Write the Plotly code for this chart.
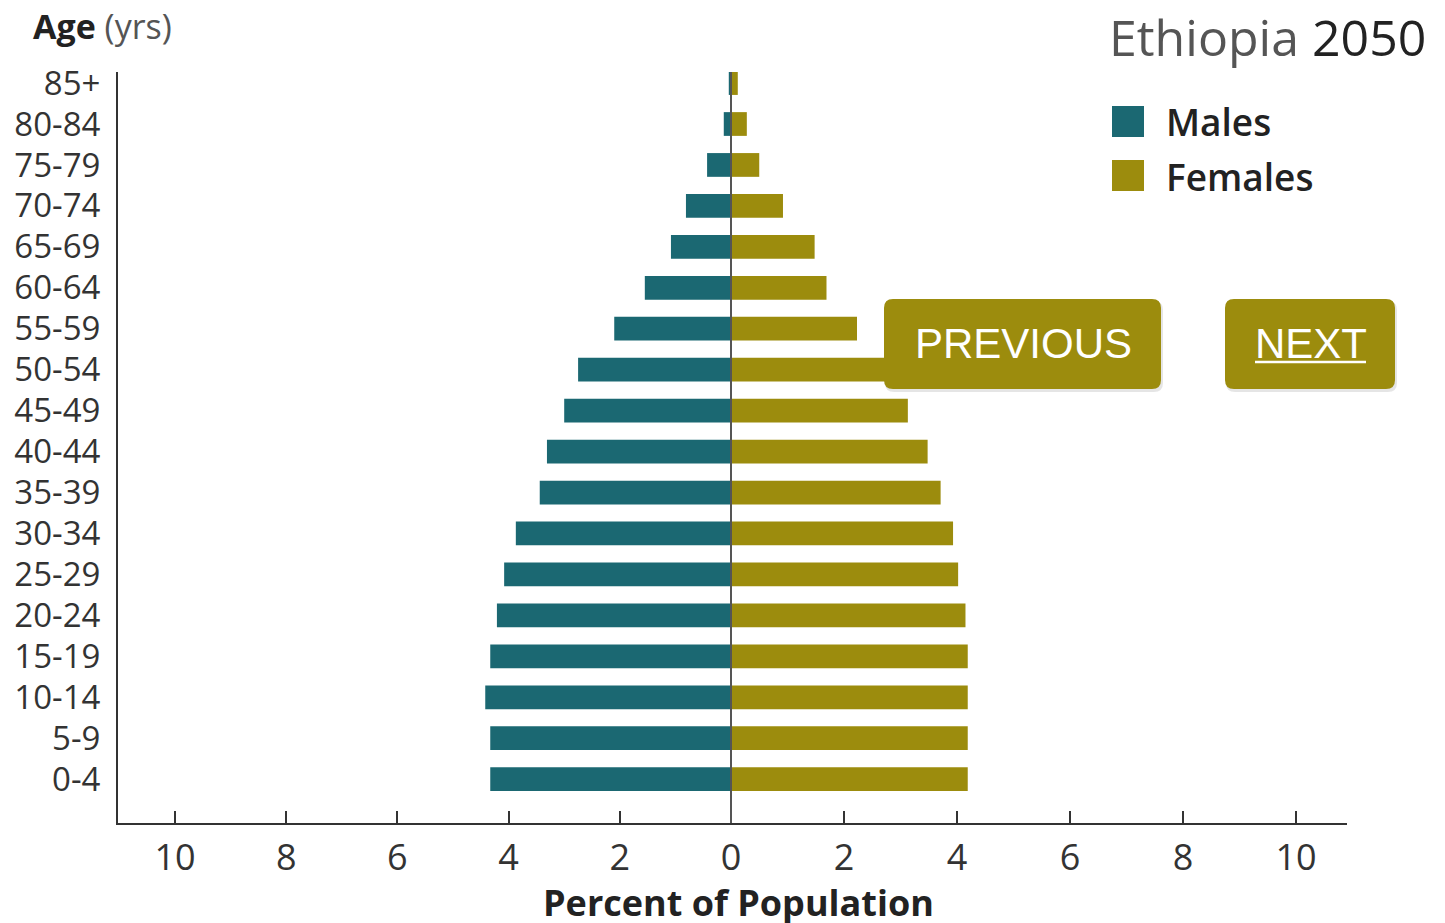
import plotly.graph_objects as go

age_groups = ["0-4", "5-9", "10-14", "15-19", "20-24", "25-29", "30-34", "35-39",
              "40-44", "45-49", "50-54", "55-59", "60-64", "65-69", "70-74", "75-79",
              "80-84", "85+"]
males = [4.33, 4.33, 4.42, 4.33, 4.21, 4.08, 3.87, 3.44, 3.31, 3.00, 2.75, 2.10,
         1.55, 1.08, 0.81, 0.43, 0.13, 0.04]
females = [4.19, 4.19, 4.19, 4.19, 4.15, 4.02, 3.93, 3.71, 3.48, 3.13, 2.90, 2.23,
           1.69, 1.48, 0.92, 0.50, 0.28, 0.12]
left_ticks = [-10, -8, -6, -4, -2]
left_tick_labels = ["10", "8", "6", "4", "2"]
right_ticks = [0, 2, 4, 6, 8, 10]
right_tick_labels = ["0", "2", "4", "6", "8", "10"]

TEAL = "#1b6872"
OLIVE = "#9c8c0d"
FONT = "Open Sans"

OFF = 8  # page body margin
W, H = 1445 - OFF, 923 - OFF
L, R, T, B = 118, 1347, 72, 823  # plot area in reference pixels
ZERO = 731  # reference pixel of the zero line


def px(x):
    return (x - L) / (R - L)


def py(y):
    return (B - y) / (B - T)


def rrect(x0, y0, x1, y1, r):
    pts = [
        f"M{px(x0 + r)},{py(y0)}",
        f"L{px(x1 - r)},{py(y0)}",
        f"Q{px(x1)},{py(y0)} {px(x1)},{py(y0 + r)}",
        f"L{px(x1)},{py(y1 - r)}",
        f"Q{px(x1)},{py(y1)} {px(x1 - r)},{py(y1)}",
        f"L{px(x0 + r)},{py(y1)}",
        f"Q{px(x0)},{py(y1)} {px(x0)},{py(y1 - r)}",
        f"L{px(x0)},{py(y0 + r)}",
        f"Q{px(x0)},{py(y0)} {px(x0 + r)},{py(y0)}",
        "Z",
    ]
    return " ".join(pts)


fig = go.Figure()
fig.add_trace(go.Bar(y=age_groups, x=[-v for v in males], orientation="h",
                     marker=dict(color=TEAL, line=dict(width=0)), name="Males",
                     width=0.58, xaxis="x", yaxis="y"))
fig.add_trace(go.Bar(y=age_groups, x=females, orientation="h",
                     marker=dict(color=OLIVE, line=dict(width=0)), name="Females",
                     width=0.58, xaxis="x2", yaxis="y"))

shapes = []
shapes.append(dict(type="line", xref="paper", yref="paper", x0=px(ZERO), x1=px(ZERO),
                   y0=0, y1=1, line=dict(color="#555555", width=2), layer="above"))
shapes.append(dict(type="rect", xref="paper", yref="paper", x0=px(1112), x1=px(1144),
                   y0=py(137), y1=py(106), fillcolor=TEAL, line=dict(width=0)))
shapes.append(dict(type="rect", xref="paper", yref="paper", x0=px(1112), x1=px(1144),
                   y0=py(191), y1=py(160), fillcolor=OLIVE, line=dict(width=0)))
for (x0, x1) in [(884, 1161), (1225, 1395)]:
    shapes.append(dict(type="path", xref="paper", yref="paper",
                       path=rrect(x0 + 1, 301, x1 + 2, 392, 9),
                       fillcolor="rgba(0,0,0,0.10)", line=dict(width=0), layer="above"))
    shapes.append(dict(type="path", xref="paper", yref="paper",
                       path=rrect(x0, 299, x1, 389, 9),
                       fillcolor=OLIVE, line=dict(width=0), layer="above"))
shapes.append(dict(type="line", xref="paper", yref="paper", x0=px(1255), x1=px(1366),
                   y0=py(362), y1=py(362), line=dict(color="white", width=2.5),
                   layer="above"))

annotations = [
    dict(text="<b>Age</b> <span style='color:#555'>(yrs)</span>", xref="paper", yref="paper",
         x=px(31), y=py(26), xanchor="left", yanchor="middle", showarrow=False,
         font=dict(family=FONT, size=34, color="#222")),
    dict(text="<span style='color:#555'>Ethiopia</span> 2050",
         xref="paper", yref="paper", x=px(1428), y=py(37), xanchor="right",
         yanchor="middle", showarrow=False,
         font=dict(family=FONT, size=50, color="#222")),
    dict(text="<span style='font-weight:600'>Males</span>", xref="paper", yref="paper",
         x=px(1164), y=py(122), xanchor="left", yanchor="middle", showarrow=False,
         font=dict(family=FONT, size=37, color="#222")),
    dict(text="<span style='font-weight:600'>Females</span>", xref="paper", yref="paper",
         x=px(1164), y=py(176), xanchor="left", yanchor="middle", showarrow=False,
         font=dict(family=FONT, size=37, color="#222")),
    dict(text="<b>Percent of Population</b>", xref="paper", yref="paper",
         x=px(738), y=py(902), xanchor="center", yanchor="middle", showarrow=False,
         font=dict(family=FONT, size=36, color="#222")),
    dict(text="PREVIOUS", xref="paper", yref="paper", x=px(1023), y=py(343),
         xanchor="center", yanchor="middle", showarrow=False,
         font=dict(family="Liberation Sans", size=42, color="white")),
    dict(text="NEXT", xref="paper", yref="paper", x=px(1311), y=py(343),
         xanchor="center", yanchor="middle", showarrow=False,
         font=dict(family="Liberation Sans", size=42, color="white")),
]

split = px(ZERO)
xcommon = dict(ticks="inside", ticklen=12, tickwidth=2, tickcolor="#333",
               showline=True, linecolor="#333", linewidth=2, showgrid=False,
               zeroline=False, tickfont=dict(family=FONT, size=36, color="#333"),
               ticklabelstandoff=2, fixedrange=True, automargin=False,
               anchor="y")

fig.update_layout(
    width=W, height=H,
    margin=dict(l=L - OFF, r=1445 - R, t=T - OFF, b=923 - B, pad=0, autoexpand=False),
    paper_bgcolor="white", plot_bgcolor="white",
    barmode="overlay", showlegend=False,
    shapes=shapes, annotations=annotations,
    font=dict(family=FONT, color="#333"),
    xaxis=dict(domain=[0, split], range=[-(ZERO - L) / 55.6, 0],
               tickvals=left_ticks, ticktext=left_tick_labels, **xcommon),
    xaxis2=dict(domain=[split, 1], range=[0, (R - ZERO) / 56.5],
                tickvals=right_ticks, ticktext=right_tick_labels, **xcommon),
    yaxis=dict(range=[-1.07, 17.27], type="category", showline=True, linecolor="#333",
               linewidth=2, showgrid=False, zeroline=False, ticks="",
               tickfont=dict(family=FONT, size=33, color="#333"),
               ticklabelstandoff=9, fixedrange=True, automargin=False),
)

fig.write_html("out.html")
